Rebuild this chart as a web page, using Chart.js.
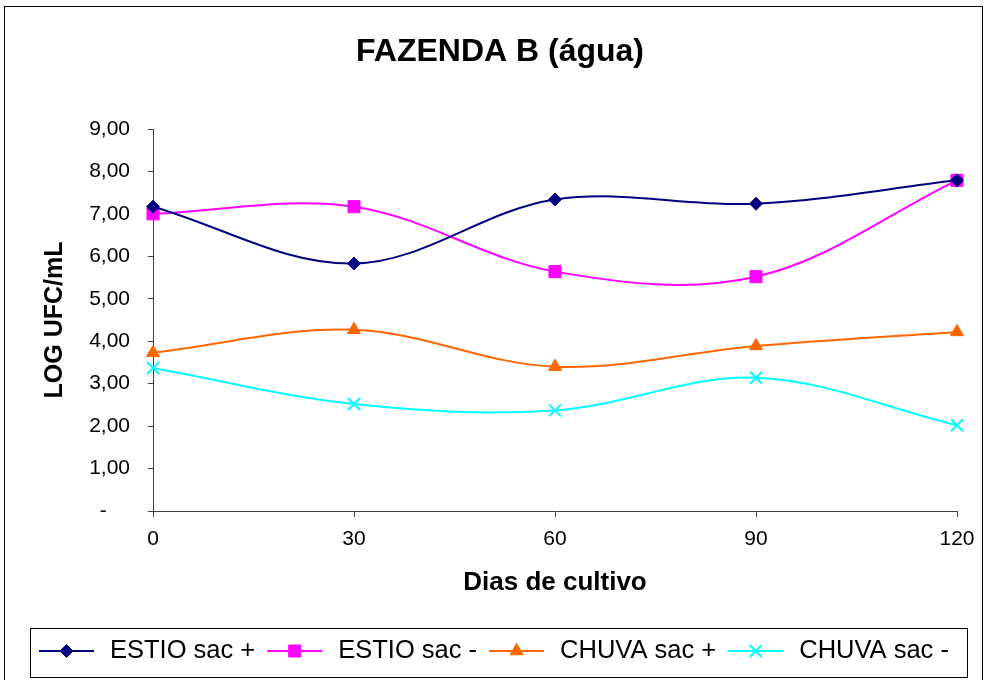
<!DOCTYPE html>
<html>
<head>
<meta charset="utf-8">
<script src="https://cdn.jsdelivr.net/npm/chart.js@4.4.1/dist/chart.umd.min.js"></script>
<style>
  html, body { margin: 0; padding: 0; background: #fff; }
  #wrap { width: 986px; height: 680px; }
</style>
</head>
<body>
<div id="wrap"><canvas id="chart" width="986" height="680"></canvas></div>
<script>
// dados
const titulo = "FAZENDA B (água)";
const dias = [0, 30, 60, 90, 120];
const estioMais = [7.17, 5.83, 7.34, 7.24, 7.79];
const estioMenos = [7.00, 7.17, 5.64, 5.52, 7.79];
const chuvaMais = [3.73, 4.27, 3.40, 3.89, 4.22];
const chuvaMenos = [3.37, 2.52, 2.37, 3.14, 2.02];
const nomes = ["ESTIO sac +", "ESTIO sac -", "CHUVA sac +", "CHUVA sac -"];

const fonte = '"Liberation Sans", Arial, sans-serif';
const eixoCor = "#404040";

function serie(valores) {
    return dias.map((d, i) => ({ x: d, y: valores[i] }));
}

// 🔹 título, moldura e legenda desenhados à mão
const moldura = {
    id: "moldura",
    beforeDraw(chart) {
        const ctx = chart.ctx;
        ctx.save();
        ctx.fillStyle = "#fff";
        ctx.fillRect(0, 0, chart.width, chart.height);
        ctx.restore();
    },
    afterDraw(chart) {
        const ctx = chart.ctx;
        ctx.save();
        ctx.strokeStyle = "#000";
        ctx.lineWidth = 1;
        ctx.strokeRect(4.5, 6.5, 978, 700);

        ctx.fillStyle = "#000";
        ctx.font = "bold 32px " + fonte;
        ctx.textAlign = "center";
        ctx.textBaseline = "middle";
        ctx.fillText(titulo, 500, 52);

        // legenda
        ctx.strokeRect(30.5, 628.5, 937, 49);
        ctx.font = "25.5px " + fonte;
        ctx.textAlign = "left";
        let x = 39;
        const y = 651;
        chart.data.datasets.forEach(ds => {
            ctx.strokeStyle = ds.borderColor;
            ctx.lineWidth = ds.borderWidth;
            ctx.beginPath();
            ctx.moveTo(x, y);
            ctx.lineTo(x + 55, y);
            ctx.stroke();
            ctx.fillStyle = ds.pointBackgroundColor;
            ctx.strokeStyle = ds.pointBorderColor;
            ctx.lineWidth = ds.pointBorderWidth;
            Chart.helpers.drawPoint(ctx, {
                pointStyle: ds.pointStyle,
                radius: ds.pointRadius,
                borderWidth: ds.pointBorderWidth,
                rotation: 0
            }, x + 27.5, y);
            ctx.fillStyle = "#000";
            ctx.fillText(ds.label, x + 71, y);
            x += 71 + ctx.measureText(ds.label).width + 12;
        });
        ctx.restore();
    }
};

function conjunto(label, valores, cor, estilo, raio, espessura) {
    return {
        label: label,
        data: serie(valores),
        borderColor: cor,
        backgroundColor: cor,
        borderWidth: 2,
        pointStyle: estilo,
        pointRadius: raio,
        pointHoverRadius: raio,
        pointBackgroundColor: cor,
        pointBorderColor: cor,
        pointBorderWidth: espessura,
        tension: 0.35,
        clip: false
    };
}

new Chart(document.getElementById("chart").getContext("2d"), {
    type: "line",
    data: {
        datasets: [
            conjunto(nomes[0], estioMais, "#000080", "rectRot", 6.5, 1),
            conjunto(nomes[1], estioMenos, "#FF00FF", "rect", 8.5, 1),
            conjunto(nomes[2], chuvaMais, "#FF6600", "triangle", 7.5, 1),
            conjunto(nomes[3], chuvaMenos, "#00FFFF", "crossRot", 8.5, 2)
        ]
    },
    options: {
        responsive: false,
        animation: false,
        layout: { padding: { top: 129, left: 0, right: 29, bottom: 69 } },
        plugins: {
            legend: { display: false },
            title: { display: false },
            tooltip: { enabled: false }
        },
        scales: {
            x: {
                type: "linear",
                min: 0,
                max: 120,
                afterFit(scale) { scale.height = 100; },
                ticks: {
                    stepSize: 30,
                    color: "#000",
                    font: { family: fonte, size: 21 },
                    padding: 10,
                    maxRotation: 0
                },
                grid: { drawOnChartArea: false, drawTicks: true, tickLength: 6, color: eixoCor },
                border: { color: eixoCor, width: 1 },
                title: {
                    display: true,
                    text: "Dias de cultivo",
                    color: "#000",
                    font: { family: fonte, size: 26, weight: "bold" },
                    padding: { top: 0, bottom: 13 }
                }
            },
            y: {
                min: 0,
                max: 9,
                afterFit(scale) { scale.width = 153; },
                ticks: {
                    stepSize: 1,
                    color: "#000",
                    font: { family: fonte, size: 21 },
                    padding: 18,
                    callback: v => v === 0 ? "-    " : v.toFixed(2).replace(".", ",")
                },
                grid: { drawOnChartArea: false, drawTicks: true, tickLength: 5, color: eixoCor },
                border: { color: eixoCor, width: 1 },
                title: {
                    display: true,
                    text: "LOG UFC/mL",
                    color: "#000",
                    font: { family: fonte, size: 25, weight: "bold" },
                    padding: { top: 40, bottom: 0 }
                }
            }
        }
    },
    plugins: [moldura]
});
</script>
</body>
</html>
